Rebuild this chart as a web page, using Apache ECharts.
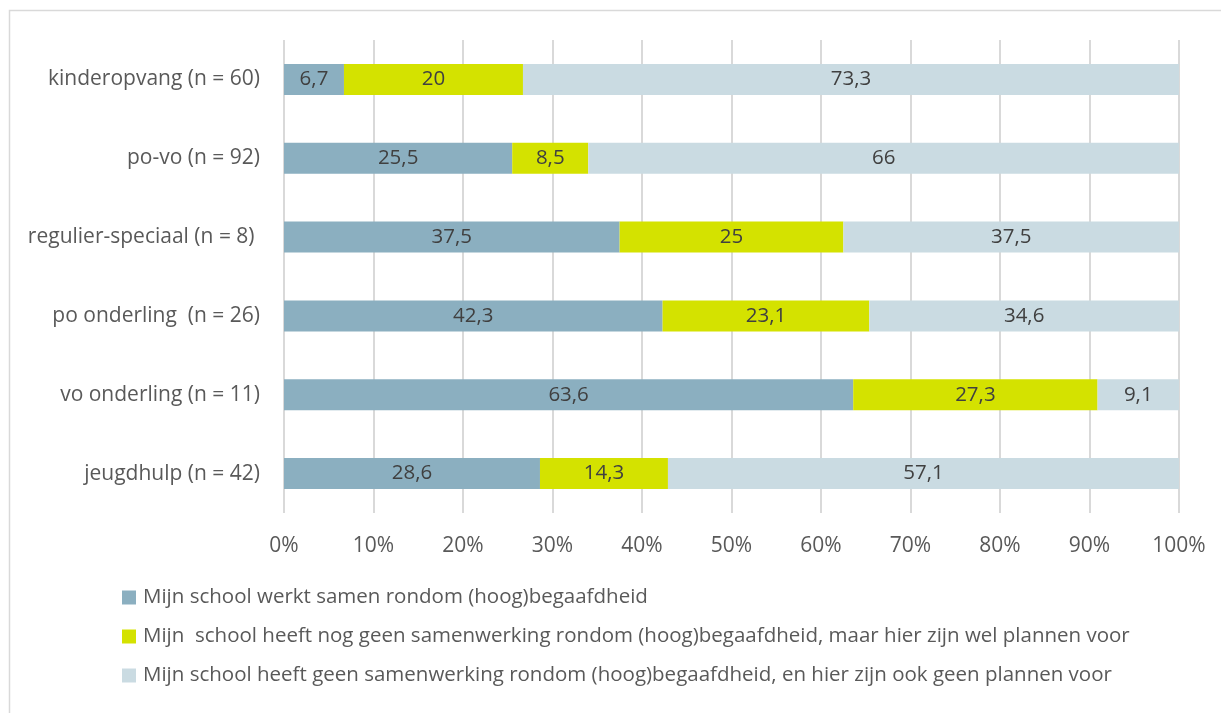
<!DOCTYPE html>
<html>
<head>
<meta charset="utf-8">
<script src="https://cdn.jsdelivr.net/npm/echarts@6/dist/echarts.min.js"></script>
<style>
  html, body { margin: 0; padding: 0; background: #fff; }
  #chart { width: 1221px; height: 713px; }
</style>
</head>
<body>
<div id="chart"></div>
<script>
const categories = [
  'kinderopvang (n = 60)',
  'po-vo (n = 92)',
  'regulier-speciaal (n = 8) ',
  'po onderling  (n = 26)',
  'vo onderling (n = 11)',
  'jeugdhulp (n = 42)'
];
const seriesNames = [
  'Mijn school werkt samen rondom (hoog)begaafdheid',
  'Mijn  school heeft nog geen samenwerking rondom (hoog)begaafdheid, maar hier zijn wel plannen voor',
  'Mijn school heeft geen samenwerking rondom (hoog)begaafdheid, en hier zijn ook geen plannen voor'
];
const samen = [6.7, 25.5, 37.5, 42.3, 63.6, 28.6];
const plannen = [20, 8.5, 25, 23.1, 27.3, 14.3];
const geen = [73.3, 66, 37.5, 34.6, 9.1, 57.1];
const colors = ['#8bafc0', '#d4e200', '#cadbe2'];

const font = 'Open Sans';
const textColor = '#595959';

const chart = echarts.init(document.getElementById('chart'));

function makeSeries(name, data, color) {
  return {
    name: name,
    type: 'bar',
    stack: 'total',
    data: data,
    barWidth: 31,
    itemStyle: { color: color },
    label: {
      show: true,
      position: 'inside',
      color: '#404040',
      fontFamily: font,
      fontSize: 20.5,
      formatter: p => String(p.value).replace('.', ',')
    }
  };
}

chart.setOption({
  animation: false,
  color: colors,
  graphic: [{
    type: 'rect',
    shape: { x: 9.5, y: 10.5, width: 1230, height: 760 },
    style: { fill: 'none', stroke: '#d9d9d9', lineWidth: 1.5 },
    silent: true
  }],
  grid: { left: 284, right: 42, top: 40, bottom: 200 },
  xAxis: {
    type: 'value',
    min: 0,
    max: 100,
    interval: 10,
    axisLine: { show: false },
    axisTick: { show: false },
    axisLabel: {
      formatter: '{value}%',
      color: textColor,
      fontFamily: font,
      fontSize: 21,
      margin: 23
    },
    splitLine: { lineStyle: { color: '#d9d9d9', width: 2 } }
  },
  yAxis: {
    type: 'category',
    data: categories,
    inverse: true,
    axisLine: { show: false },
    axisTick: { show: false },
    axisLabel: {
      color: textColor,
      fontFamily: font,
      fontSize: 21,
      margin: 24
    }
  },
  legend: {
    orient: 'vertical',
    left: 117,
    top: 580,
    itemWidth: 14,
    itemHeight: 14,
    itemGap: 14,
    icon: 'rect',
    textStyle: { color: textColor, fontFamily: font, fontSize: 20.5, lineHeight: 25, padding: [0, 0, 0, 2] },
    data: seriesNames
  },
  series: [
    makeSeries(seriesNames[0], samen, colors[0]),
    makeSeries(seriesNames[1], plannen, colors[1]),
    makeSeries(seriesNames[2], geen, colors[2])
  ]
});
</script>
</body>
</html>
